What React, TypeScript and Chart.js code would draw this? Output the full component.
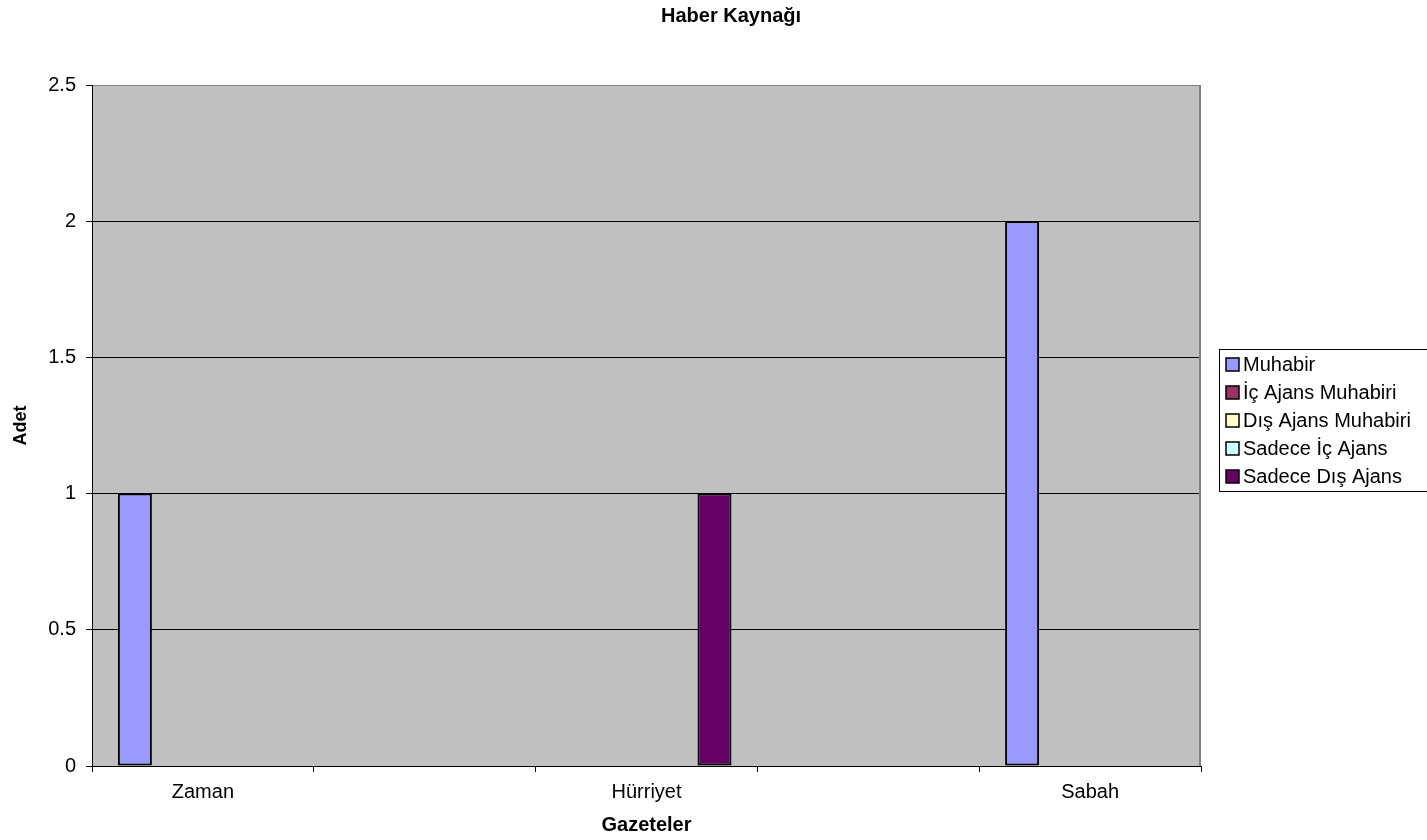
import React, { useEffect, useRef } from "react";
import { Chart, registerables } from "chart.js";

Chart.register(...registerables);

const TITLE = "Haber Kaynağı";
const X_TITLE = "Gazeteler";
const Y_TITLE = "Adet";
const CATEGORIES = ["Zaman", "", "Hürriyet", "", "Sabah"];
const SERIES_NAMES = [
  "Muhabir",
  "İç Ajans Muhabiri",
  "Dış Ajans Muhabiri",
  "Sadece İç Ajans",
  "Sadece Dış Ajans",
];
const SERIES_COLORS = ["#9999FF", "#993366", "#FFFFCC", "#CCFFFF", "#660066"];
const MUHABIR = [1, 0, 0, 0, 2];
const IC_AJANS_MUHABIRI = [0, 0, 0, 0, 0];
const DIS_AJANS_MUHABIRI = [0, 0, 0, 0, 0];
const SADECE_IC_AJANS = [0, 0, 0, 0, 0];
const SADECE_DIS_AJANS = [0, 0, 1, 0, 0];
const SERIES_VALUES = [
  MUHABIR,
  IC_AJANS_MUHABIRI,
  DIS_AJANS_MUHABIRI,
  SADECE_IC_AJANS,
  SADECE_DIS_AJANS,
];
const Y_MIN = 0;
const Y_MAX = 2.5;
const Y_STEP = 0.5;

const FONT = "'Liberation Sans', Arial, sans-serif";

const decorPlugin = {
  id: "decor",
  beforeDraw(chart: any) {
    const { ctx, chartArea } = chart;
    ctx.save();
    ctx.fillStyle = "#FFFFFF";
    ctx.fillRect(0, 0, chart.width, chart.height);
    ctx.fillStyle = "#C0C0C0";
    ctx.fillRect(
      chartArea.left,
      chartArea.top,
      chartArea.right - chartArea.left,
      chartArea.bottom - chartArea.top
    );
    ctx.restore();
  },
  afterDraw(chart: any) {
    const { ctx, chartArea } = chart;
    ctx.save();
    // plot area right border
    ctx.strokeStyle = "#808080";
    ctx.lineWidth = 2;
    ctx.beginPath();
    ctx.moveTo(chartArea.right - 1, chartArea.top);
    ctx.lineTo(chartArea.right - 1, chartArea.bottom);
    ctx.stroke();

    // title
    ctx.fillStyle = "#000";
    ctx.font = `bold 20px ${FONT}`;
    ctx.textAlign = "center";
    ctx.textBaseline = "middle";
    ctx.fillText(TITLE, 731, 16);

    // legend
    const lx = 1219.5;
    const ly = 349.5;
    const lw = 220;
    const lh = 142;
    ctx.fillStyle = "#FFFFFF";
    ctx.fillRect(lx, ly, lw, lh);
    ctx.strokeStyle = "#000";
    ctx.lineWidth = 1;
    ctx.strokeRect(lx, ly, lw, lh);
    ctx.font = `20px ${FONT}`;
    ctx.textAlign = "left";
    ctx.textBaseline = "middle";
    chart.data.datasets.forEach((ds: any, i: number) => {
      const cy = 364 + i * 28;
      ctx.fillStyle = ds.backgroundColor;
      ctx.fillRect(1226, cy - 6, 13, 13);
      ctx.strokeStyle = "#000";
      ctx.lineWidth = 1.5;
      ctx.strokeRect(1226, cy - 6, 13, 13);
      ctx.fillStyle = "#000";
      ctx.fillText(ds.label, 1243, cy + 1);
    });
    ctx.restore();
  },
};

export default function App() {
  const canvasRef = useRef<HTMLCanvasElement>(null);

  useEffect(() => {
    document.body.style.margin = "0";
    document.body.style.overflow = "hidden";
    const canvas = canvasRef.current!;
    const chart = new Chart(canvas, {
      type: "bar",
      data: {
        labels: CATEGORIES,
        datasets: SERIES_NAMES.map((name, i) => ({
          label: name,
          data: SERIES_VALUES[i],
          backgroundColor: SERIES_COLORS[i],
          borderColor: "#000000",
          borderWidth: (c: any) => (c.raw ? 2 : 0),
          borderSkipped: false,
          categoryPercentage: 0.7665,
          barPercentage: 1,
        })),
      },
      options: {
        animation: false,
        responsive: false,
        devicePixelRatio: 1,
        layout: { padding: { top: 85, right: 226, bottom: 0, left: 0 } },
        plugins: {
          legend: { display: false },
          title: { display: false },
          tooltip: { enabled: false },
        },
        scales: {
          x: {
            type: "category",
            offset: true,
            grid: {
              offset: true,
              drawOnChartArea: false,
              drawTicks: true,
              tickLength: 6,
              tickColor: "#000",
            },
            border: { display: true, color: "#000", width: 1 },
            ticks: {
              color: "#000",
              font: { family: FONT, size: 20 },
              padding: 8,
              autoSkip: false,
              maxRotation: 0,
            },
            title: {
              display: true,
              text: X_TITLE,
              color: "#000",
              font: { family: FONT, size: 20, weight: "bold" },
              padding: { top: 0, bottom: 3 },
            },
            afterFit: (s: any) => {
              s.height = 74;
            },
          },
          y: {
            min: Y_MIN,
            max: Y_MAX,
            grid: {
              color: (c: any) =>
                c.tick && c.tick.value === Y_MAX ? "#808080" : "#000000",
              lineWidth: 1,
              drawTicks: true,
              tickLength: 6,
              tickColor: "#000",
            },
            border: { display: true, color: "#000", width: 1 },
            ticks: {
              stepSize: Y_STEP,
              color: "#000",
              font: { family: FONT, size: 20 },
              padding: 10,
              callback: (v: any) => String(Number(v)),
            },
            title: {
              display: true,
              text: Y_TITLE,
              color: "#000",
              font: { family: FONT, size: 18, weight: "bold" },
              padding: { top: 10, bottom: 0 },
            },
            afterFit: (s: any) => {
              s.width = 92;
            },
          },
        },
      },
      plugins: [decorPlugin],
    });
    return () => chart.destroy();
  }, []);

  return (
    <div style={{ width: 1427, height: 840 }}>
      <canvas
        ref={canvasRef}
        width={1427}
        height={840}
        style={{ display: "block", width: 1427, height: 840 }}
      />
    </div>
  );
}
